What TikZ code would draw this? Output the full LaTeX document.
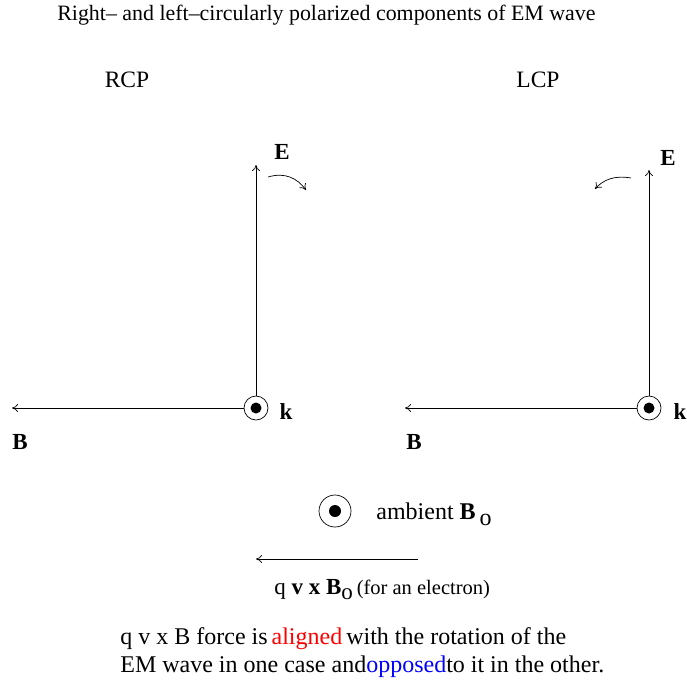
\documentclass[tikz,border=0pt]{standalone}
\usepackage{fontspec}
\setmainfont{Liberation Serif}
\usetikzlibrary{arrows.meta}
\begin{document}
\begin{tikzpicture}[x=1pt,y=-1pt,
  line width=0.7pt,
  arr/.style={-{To[length=6pt,width=8pt]}},
  lbl/.style={font=\fontsize{23}{26}\selectfont\bfseries, inner sep=0pt},
  txt/.style={font=\fontsize{24}{28}\selectfont, inner sep=0pt, anchor=base west}]
\useasboundingbox (0,0) rectangle (687,686);
\node[font=\fontsize{21.9}{24}\selectfont, inner sep=0pt, anchor=base west] (title) at (57,20) {Right-- and left--circularly polarized components of EM wave};
\node[font=\fontsize{23.5}{26}\selectfont, inner sep=0pt] (rcp) at (127,80) {RCP};
\node[font=\fontsize{23.5}{26}\selectfont, inner sep=0pt] (lcp) at (538,80) {LCP};
% left
\node[circle, draw, minimum size=24pt, inner sep=0pt] (kl) at (256,408) {};
\fill (kl.center) circle (5.5);
\coordinate (el) at (256,165);
\coordinate (bl) at (12,408);
\draw[arr] (kl.north) -- (el);
\draw[arr] (kl.west) -- (bl);
\node[lbl] (El) at (282,152) {E};
\node[lbl] (kkl) at (286,412) {k};
\node[lbl] (Bl) at (20,442) {B};
\coordinate (rl1) at (268,177);
\coordinate (rl2) at (306,190);
\draw[arr] (rl1) .. controls (285,172) and (297,178) .. (rl2);
% right
\node[circle, draw, minimum size=24pt, inner sep=0pt] (kr) at (649,408) {};
\fill (kr.center) circle (5.5);
\coordinate (er) at (649,170);
\coordinate (br) at (405,408);
\draw[arr] (kr.north) -- (er);
\draw[arr] (kr.west) -- (br);
\node[lbl] (Er) at (668,158) {E};
\node[lbl] (kkr) at (680,412) {k};
\node[lbl] (Br) at (414,442) {B};
\coordinate (rr1) at (631,178);
\coordinate (rr2) at (595,189);
\draw[arr] (rr1) .. controls (614,175) and (603,180) .. (rr2);
% ambient
\node[circle, draw, minimum size=32pt, inner sep=0pt] (amb) at (335,511) {};
\fill (amb.center) circle (6);
\node[txt] (ambt) at (376,519) {ambient \textbf{B}\,\raisebox{-6pt}{o}};
\coordinate (f1) at (418,559);
\coordinate (f2) at (256,559);
\draw[arr] (f1) -- (f2);
\node[font=\fontsize{23}{26}\selectfont, inner sep=0pt, anchor=base west] (qv) at (274,594) {q \textbf{v x B}\raisebox{-5pt}{o}\,{\fontsize{20.5}{24}\selectfont (for an electron)}};
\node[txt] (l1) at (120,644) {q v x B force is\,\textcolor{red}{aligned}\,with the rotation of the};
\node[txt] (l2) at (120,672) {EM wave in one case and\textcolor{blue}{opposed}to it in the other.};
\end{tikzpicture}
\end{document}
